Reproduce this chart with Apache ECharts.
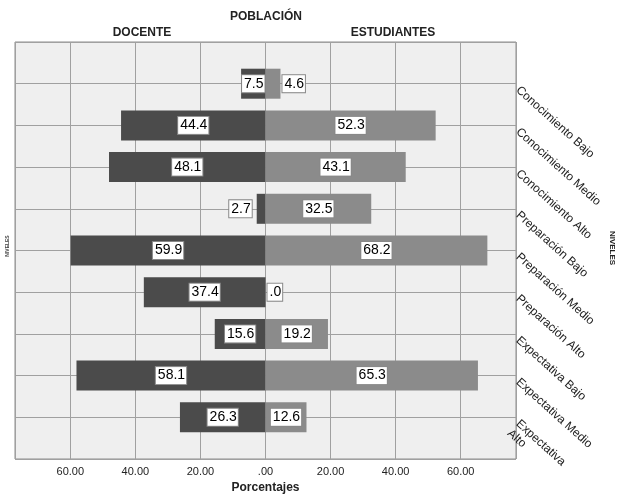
<!DOCTYPE html>
<html>
<head>
<meta charset="utf-8">
<script src="https://cdn.jsdelivr.net/npm/echarts@6/dist/echarts.min.js"></script>
<style>html,body{margin:0;padding:0;background:#fff}#c{width:620px;height:499px}</style>
</head>
<body>
<div id="c"></div>
<script>
var categories = ['Conocimiento Bajo','Conocimiento Medio','Conocimiento Alto','Preparación Bajo','Preparación Medio','Preparación Alto','Expectativa Bajo','Expectativa Medio','Expectativa\nAlto'];
var docente = [7.5, 44.4, 48.1, 2.7, 59.9, 37.4, 15.6, 58.1, 26.3];
var estudiantes = [4.6, 52.3, 43.1, 32.5, 68.2, 0, 19.2, 65.3, 12.6];
var xTicks = [-60, -40, -20, 0, 20, 40, 60];

var FONT = '"Liberation Sans", Arial, sans-serif';
var chart = echarts.init(document.getElementById('c'), null, {renderer: 'canvas'});

function fmtVal(v){ v = Math.abs(v); return v === 0 ? '.0' : v.toFixed(1); }
function fmtAxis(v){ var a = Math.abs(v); return a === 0 ? '.00' : a.toFixed(2); }

var labelBase = {
  show: true, color: '#000', fontSize: 14, fontFamily: FONT,
  backgroundColor: '#fff', borderColor: '#888', borderWidth: 1, padding: [2, 1, 1, 2],
  formatter: function(p){ return fmtVal(p.value); }
};

function buildData(arr, sign, outerPos){
  var out = [null];
  arr.forEach(function(v){
    var item = {value: sign * v};
    if (v < 5) item.label = {position: outerPos, distance: outerPos === 'left' ? 5 : 2};
    else item.label = {position: 'inside'};
    out.push(item);
  });
  out.push(null);
  return out;
}

var yData = [''].concat(categories).concat(['']);

chart.setOption({
  animation: false,
  grid: {left: 15, right: 104, top: 42, bottom: 34, show: true, backgroundColor: '#efefef', borderColor: '#8c8c8c', borderWidth: 1},
  xAxis: {
    type: 'value', min: -77, max: 77, minInterval: 20, maxInterval: 20,
    axisLine: {show: false}, axisTick: {show: false},
    splitLine: {show: true, lineStyle: {color: '#a0a0a0', width: 1}},
    axisLabel: {
      color: '#222', fontSize: 11, fontFamily: FONT, margin: 7,
      formatter: function(v){ return xTicks.indexOf(v) >= 0 ? fmtAxis(v) : ''; }
    },
    name: 'Porcentajes', nameLocation: 'middle', nameGap: 23,
    nameTextStyle: {fontWeight: 'bold', fontSize: 12, color: '#222', fontFamily: FONT}
  },
  yAxis: {
    type: 'category', data: yData, inverse: true, boundaryGap: false, position: 'right',
    axisLine: {show: false},
    axisTick: {show: true, length: 6, lineStyle: {color: '#8c8c8c'}, interval: function(i){ return i > 0 && i < yData.length - 1; }},
    splitLine: {show: true, lineStyle: {color: '#a0a0a0', width: 1}},
    axisLabel: {
      interval: 0, rotate: -42, margin: 6, color: '#222', fontSize: 12, fontFamily: FONT,
      align: 'left', verticalAlign: 'top', lineHeight: 13
    }
  },
  series: [
    {name: 'DOCENTE', type: 'bar', barWidth: 30, barGap: '-100%',
     itemStyle: {color: '#4b4b4b'}, label: labelBase, data: buildData(docente, -1, 'left'), z: 3},
    {name: 'ESTUDIANTES', type: 'bar', barWidth: 30,
     itemStyle: {color: '#8b8b8b'}, label: labelBase, data: buildData(estudiantes, 1, 'right'), z: 3}
  ],
  graphic: [
    {type: 'text', x: 266, y: 17, style: {text: 'POBLACIÓN', font: 'bold 12px ' + FONT, fill: '#222', align: 'center', verticalAlign: 'middle'}},
    {type: 'text', x: 142, y: 33, style: {text: 'DOCENTE', font: 'bold 12px ' + FONT, fill: '#222', align: 'center', verticalAlign: 'middle'}},
    {type: 'text', x: 393, y: 33, style: {text: 'ESTUDIANTES', font: 'bold 12px ' + FONT, fill: '#222', align: 'center', verticalAlign: 'middle'}},
    {type: 'text', x: 612, y: 248, rotation: -Math.PI / 2, style: {text: 'NIVELES', font: 'bold 8px ' + FONT, fill: '#222', align: 'center', verticalAlign: 'middle'}},
    {type: 'text', x: 8, y: 246, rotation: Math.PI / 2, style: {text: 'NIVELES', font: 'bold 5px ' + FONT, fill: '#444', align: 'center', verticalAlign: 'middle'}}
  ]
});
</script>
</body>
</html>
